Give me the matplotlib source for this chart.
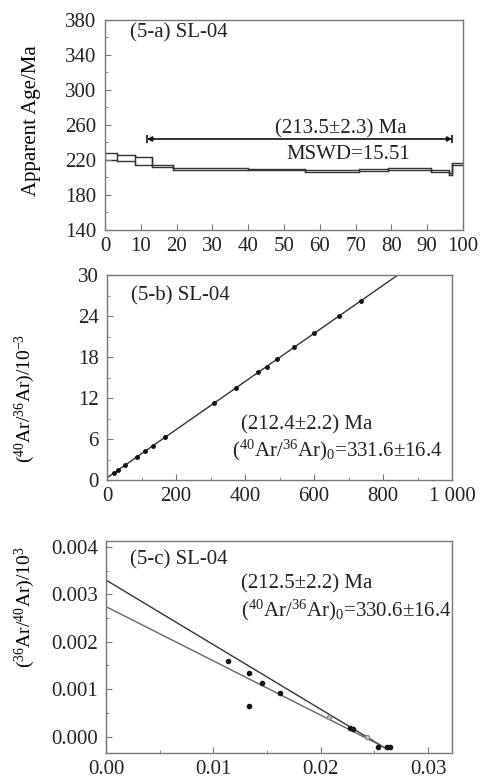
import numpy as np
import matplotlib.pyplot as plt
from matplotlib.ticker import MultipleLocator

plt.rcParams['font.family'] = ['Liberation Serif', 'DejaVu Serif']
plt.rcParams['mathtext.fontset'] = 'custom'
plt.rcParams['mathtext.rm'] = 'Liberation Serif'
plt.rcParams['mathtext.it'] = 'Liberation Serif:italic'
plt.rcParams['font.size'] = 15

# (5-a) age spectrum: cumulative 39Ar release (%) and step ages
step_edges = [0, 3.3, 8.4, 13.1, 19, 40, 56, 71, 79, 91, 96, 97, 100]
step_age = [224, 222, 219, 213, 210, 209, 207.5, 208.5, 210, 207.5, 204, 215]
step_err = [3.5, 3.5, 4.5, 1.5, 1.0, 1.0, 1.0, 1.0, 1.0, 1.0, 1.2, 1.0]
plateau_from, plateau_to, plateau_y = 11.7, 97, 244

# (5-b) normal isochron
iso_x = [20, 32, 52, 87, 110, 134, 168, 310, 374, 438, 463, 492, 542, 600, 672, 735]
iso_y = [1.03, 1.46, 2.16, 3.39, 4.2, 5.05, 6.24, 11.24, 13.5, 15.75,
         16.6, 17.65, 19.4, 21.45, 23.98, 26.2]
iso_b_int, iso_b_slope = 0.33, 0.0352

# (5-c) inverse isochron
inv_x = [0.01139, 0.01331, 0.01455, 0.01625, 0.01331, 0.0230, 0.02275,
         0.02538, 0.02615, 0.02646]
inv_y = [0.0016, 0.00135, 0.00114, 0.00091, 0.00065, 0.00015, 0.00018,
         -0.00022, -0.00022, -0.00022]
inv_open_x = [0.02073, 0.0243]
inv_open_y = [0.00042, 0.0]
inv_int = [0.00330, 0.00274]
inv_end = [0.0262, 0.0262]
inv_slope = [-0.1362, -0.1144]

ink = '#333333'
frame = '#777777'
txt = '#222222'
fs = 15

fig = plt.figure(figsize=(4.81, 7.78), dpi=100)
ax1 = fig.add_axes([0.2183, 0.7044, 0.7443, 0.2699])
ax2 = fig.add_axes([0.2225, 0.383, 0.7173, 0.2635])
ax3 = fig.add_axes([0.2204, 0.0325, 0.7187, 0.2725])

for ax in (ax1, ax2, ax3):
    for s in ax.spines.values():
        s.set_color(frame)
        s.set_linewidth(1.0)
    ax.tick_params(which='both', direction='in', top=False, right=False,
                   colors=frame, labelcolor=txt, labelsize=fs)
    ax.tick_params(axis='y', pad=6)
    ax.tick_params(axis='x', pad=5)
    ax.tick_params(which='major', length=4)
    ax.tick_params(which='minor', length=2)

# ---- panel a
upper = [a + e for a, e in zip(step_age, step_err)]
lower = [a - e for a, e in zip(step_age, step_err)]
ax1.stairs(upper, step_edges, color=ink, lw=1.0, baseline=None)
ax1.stairs(lower, step_edges, color=ink, lw=1.0, baseline=None)
for i in range(1, len(step_edges) - 1):
    lo = min(lower[i - 1], lower[i])
    hi = max(upper[i - 1], upper[i])
    ax1.plot([step_edges[i]] * 2, [lo, hi], color=ink, lw=1.0)
ax1.plot([0, 0], [lower[0], upper[0]], color=ink, lw=1.0)
ax1.annotate('', xy=(plateau_to, plateau_y), xytext=(plateau_from, plateau_y),
             arrowprops=dict(arrowstyle='<|-|>', mutation_scale=7, lw=1.2,
                             color='#111111', shrinkA=0, shrinkB=0))
ax1.plot([plateau_from, plateau_to], [plateau_y, plateau_y], '|', color='#111111',
         ms=6, mew=1.2)
ax1.text(66, 256, '(213.5±2.3) Ma', ha='center', va='center', fontsize=fs, color=txt)
ax1.text(68, 226, 'MSWD=15.51', ha='center', va='center', fontsize=fs, color=txt)
ax1.text(7, 365, '(5-a) SL-04', ha='left', va='center', fontsize=fs, color=txt)
ax1.set_xlim(0, 100)
ax1.set_ylim(140, 380)
ax1.set_xticks(range(0, 101, 10))
ax1.set_yticks(range(140, 381, 40))
ax1.yaxis.set_minor_locator(MultipleLocator(20))
ax1.set_ylabel('Apparent Age/Ma', fontsize=fs)
ax1.yaxis.set_label_coords(-0.18, 0.52)

# ---- panel b
xl = np.array([0, 1000])
ax2.plot(xl, iso_b_int + iso_b_slope * xl, color=ink, lw=1.0)
ax2.plot(iso_x, iso_y, 'o', color='#111111', ms=2.5)
ax2.text(0.07, 0.9, '(5-b) SL-04', transform=ax2.transAxes, ha='left', va='center',
         fontsize=fs, color=txt)
ax2.text(580, 8.05, '(212.4±2.2) Ma', ha='center', va='center', fontsize=fs, color=txt)
ax2.text(667, 4.4, '($^{40}$Ar/$^{36}$Ar)$_0$=331.6±16.4', ha='center', va='center',
         fontsize=fs, color=txt)
ax2.set_xlim(0, 1000)
ax2.set_ylim(0, 30)
ax2.xaxis.set_minor_locator(MultipleLocator(100))
ax2.yaxis.set_major_locator(MultipleLocator(6))
ax2.yaxis.set_minor_locator(MultipleLocator(3))
ax2.set_xticks([0, 200, 400, 600, 800, 1000])
ax2.set_xticklabels(['0', '200', '400', '600', '800', '1 000'])
ax2.set_ylabel('($^{40}$Ar/$^{36}$Ar)/10$^{-3}$', fontsize=14)
ax2.yaxis.set_label_coords(-0.203, 0.4)

# ---- panel c
for b, e, m, c in zip(inv_int, inv_end, inv_slope, [ink, '#666666']):
    xx = np.array([0, e])
    ax3.plot(xx, b + m * xx, color=c, lw=1.0)
ax3.plot(inv_x, inv_y, 'o', color='#111111', ms=3)
ax3.plot(inv_open_x, inv_open_y, 'o', mfc='#cccccc', mec='#888888', ms=3)
ax3.text(0.07, 0.91, '(5-c) SL-04', transform=ax3.transAxes, ha='left', va='center',
         fontsize=fs, color=txt)
ax3.text(0.0187, 0.00322, '(212.5±2.2) Ma', ha='center', va='center', fontsize=fs,
         color=txt)
ax3.text(0.0224, 0.00267, '($^{40}$Ar/$^{36}$Ar)$_0$=330.6±16.4', ha='center', va='center',
         fontsize=fs, color=txt)
ax3.set_xlim(0, 0.0322)
ax3.set_ylim(-0.00034, 0.00413)
ax3.xaxis.set_major_locator(MultipleLocator(0.01))
ax3.xaxis.set_minor_locator(MultipleLocator(0.005))
ax3.yaxis.set_major_locator(MultipleLocator(0.001))
ax3.yaxis.set_minor_locator(MultipleLocator(0.0005))
ax3.xaxis.set_major_formatter(lambda v, p: f'{v:.2f}')
ax3.yaxis.set_major_formatter(lambda v, p: f'{v:.3f}')
ax3.set_ylabel('($^{36}$Ar/$^{40}$Ar)/10$^{3}$', fontsize=14)
ax3.yaxis.set_label_coords(-0.2, 0.687)

fig.savefig('out.png', dpi=100)
